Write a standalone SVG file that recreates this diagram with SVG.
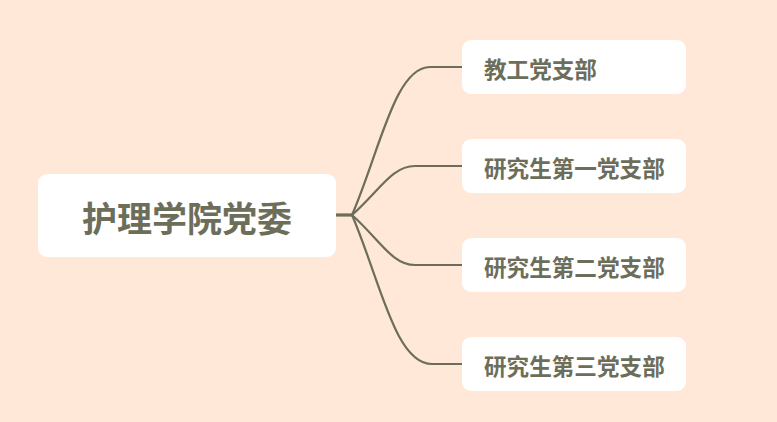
<svg xmlns="http://www.w3.org/2000/svg" width="777" height="422" viewBox="0 0 777 422">
<style>
.box{fill:#FFFFFF;}
.t{font-family:"Noto Sans CJK SC","Noto Sans",sans-serif;font-weight:bold;fill:#6C6E5A;}
.c{fill:none;stroke:#6C6E5A;stroke-width:2.2;stroke-linecap:round;}
</style>
<rect width="777" height="422" fill="#FFE8D8"/>
<g id="connectors">
<path class="c" d="M336,215 L352,215" style="stroke-width:3.2;stroke-linecap:butt"/>
<path class="c" d="M352,215 C380,150 395,67 430,67 L462,67"/>
<path class="c" d="M352,215 C380,190 392,166 415,166 L462,166"/>
<path class="c" d="M352,215 C380,240 392,265 415,265 L462,265"/>
<path class="c" d="M352,215 C380,280 395,364 432,364 L462,364"/>
</g>
<g id="root">
<rect class="box" x="38" y="174" width="298" height="83" rx="9"/>
<text class="t" x="187" y="216" font-size="35" text-anchor="middle" dominant-baseline="central">护理学院党委</text>
</g>
<g id="n1">
<rect class="box" x="462" y="40" width="224" height="54" rx="9"/>
<text class="t" x="484" y="68" font-size="22.6" dominant-baseline="central">教工党支部</text>
</g>
<g id="n2">
<rect class="box" x="462" y="139" width="224" height="54" rx="9"/>
<text class="t" x="484" y="167" font-size="22.6" dominant-baseline="central">研究生第一党支部</text>
</g>
<g id="n3">
<rect class="box" x="462" y="238" width="224" height="54" rx="9"/>
<text class="t" x="484" y="266" font-size="22.6" dominant-baseline="central">研究生第二党支部</text>
</g>
<g id="n4">
<rect class="box" x="462" y="337" width="224" height="54" rx="9"/>
<text class="t" x="484" y="365" font-size="22.6" dominant-baseline="central">研究生第三党支部</text>
</g>
</svg>
